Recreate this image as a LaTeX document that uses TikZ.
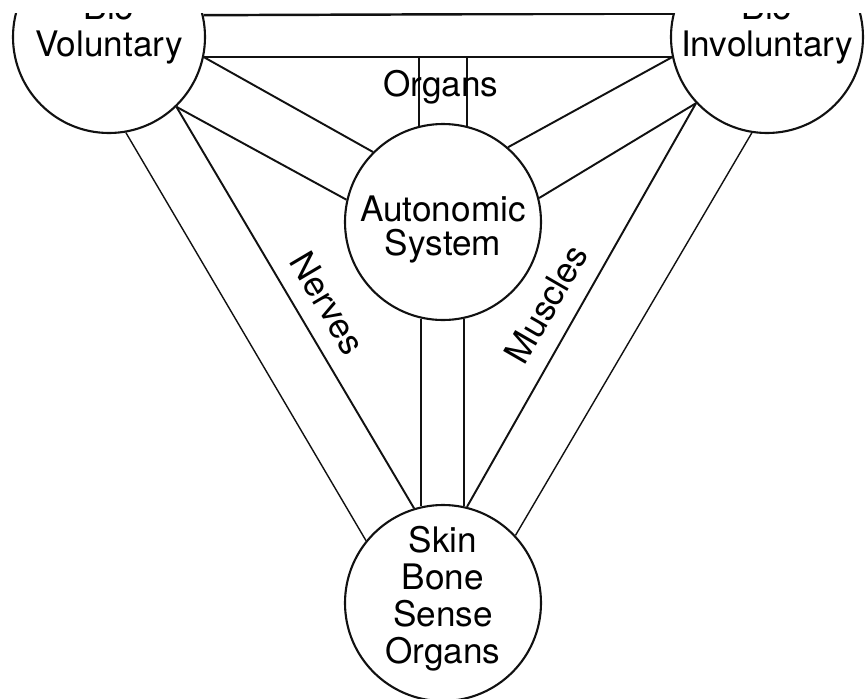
\documentclass[tikz,border=0pt]{standalone}
\usepackage{fontspec}
\setmainfont{TeX Gyre Heros}
\usetikzlibrary{calc}
\definecolor{bodyInk}{HTML}{111111}
\tikzset{
  bodyCircle/.style={
    circle,
    draw=bodyInk,
    line width=1.2pt,
    minimum size=38.4mm,
    inner sep=0pt,
    align=center,
    font=\fontsize{20}{21}\selectfont
  },
  bodyLink/.style={draw=bodyInk, line width=1.1pt},
  thinLink/.style={draw=bodyInk, line width=0.8pt},
  linkLabel/.style={font=\fontsize{20}{21}\selectfont, inner sep=1pt}
}

\begin{document}
\begin{tikzpicture}[x=0.2mm,y=-0.2mm]
  \useasboundingbox (0,0) rectangle (865,699);
  \clip (0,13) rectangle (865,699);

  % the struts only move the text inside the circles
  \node[bodyCircle] (vol) at (109,37)
    {Bio\\Voluntary\rule[-13pt]{0pt}{0pt}};
  \node[bodyCircle] (invol) at (767,37)
    {Bio\\Involuntary\rule[-13pt]{0pt}{0pt}};
  \node[bodyCircle, minimum size=39.2mm, font=\fontsize{20}{19}\selectfont]
    (auto) at (443,222) {\rule{0pt}{23pt}Autonomic\\System};
  \node[bodyCircle, minimum size=39.2mm] (body) at (443,603)
    {Skin\\Bone\\Sense\\Organs\rule[-9pt]{0pt}{0pt}};

  % top band and organs
  \draw[bodyLink, line width=1.4pt] (vol.13.9) -- (invol.166.1);
  \draw[bodyLink] (vol.-12) -- (invol.192);
  \draw[bodyLink] (auto.104.8) -- (auto.104.8 |- vol.-12);
  \draw[bodyLink] (auto.76.4) -- (auto.76.4 |- vol.-12);

  % side bands to the autonomic system
  \draw[bodyLink] (vol.-12) -- (auto.135);
  \draw[bodyLink] (vol.-46) -- (auto.167);
  \draw[bodyLink] (invol.192) -- (auto.49);
  \draw[bodyLink] (invol.-137) -- (auto.14);

  % nerves and muscles
  \draw[bodyLink] (vol.-46) -- (body.107);
  \draw[thinLink] (vol.-80) -- (body.141);
  \draw[bodyLink] (invol.-137) -- (body.76);
  \draw[thinLink] (invol.-99) -- (body.43);

  % autonomic to body
  \draw[bodyLink] (auto.-103.6) -- (body.103.6);
  \draw[bodyLink] (auto.-78.2) -- (body.78.2);

  \node[linkLabel] (organsLabel) at (441,87) {Organs};
  \node[linkLabel, rotate=-59.4] (nervesLabel) at (328,303) {Nerves};
  \node[linkLabel, rotate=60] (musclesLabel) at (546,304) {Muscles};
\end{tikzpicture}
\end{document}
